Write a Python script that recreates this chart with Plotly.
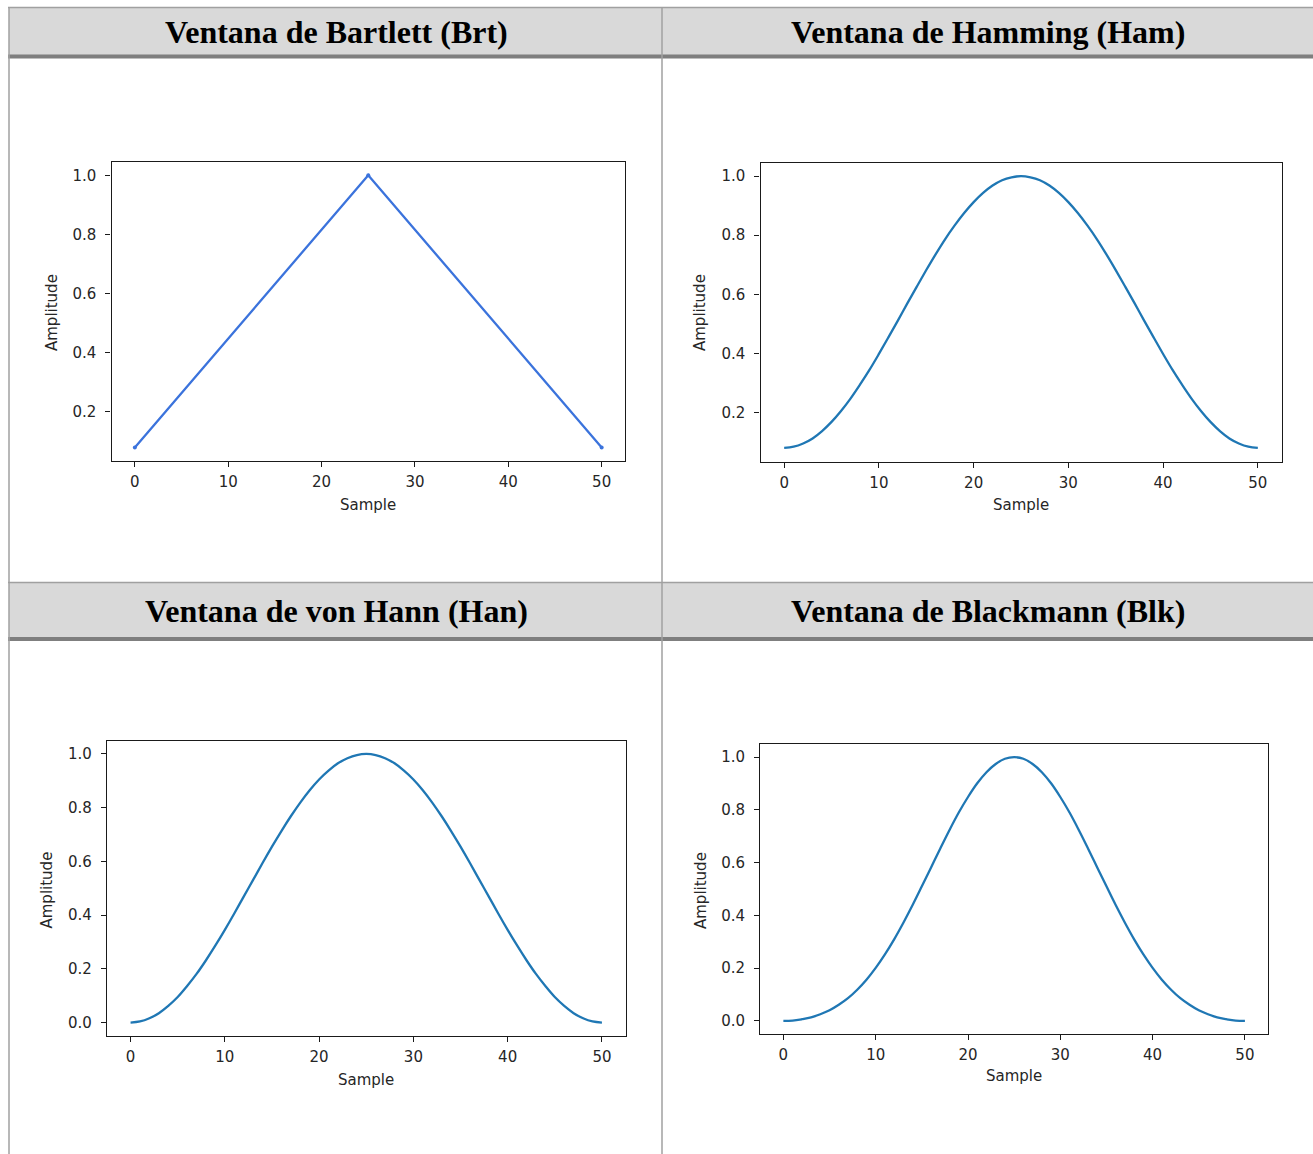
import plotly.graph_objects as go

W, H = 1313, 1154

# ---------------- data ----------------
titles = ["Ventana de Bartlett (Brt)", "Ventana de Hamming (Ham)",
          "Ventana de von Hann (Han)", "Ventana de Blackmann (Blk)"]

samples = list(range(51))

bartlett_samples = [0, 25, 50]
bartlett_values = [0.08, 1.00, 0.08]

hamming_values = [0.080, 0.084, 0.095, 0.112, 0.137, 0.168, 0.205, 0.247, 0.294, 0.344,
                  0.398, 0.454, 0.511, 0.569, 0.626, 0.682, 0.736, 0.787, 0.833, 0.875,
                  0.912, 0.943, 0.968, 0.986, 0.996, 1.000, 0.996, 0.986, 0.968, 0.943,
                  0.912, 0.875, 0.833, 0.787, 0.736, 0.682, 0.626, 0.569, 0.511, 0.454,
                  0.398, 0.344, 0.294, 0.247, 0.205, 0.168, 0.137, 0.112, 0.095, 0.084,
                  0.080]

hann_values = [0.000, 0.004, 0.016, 0.035, 0.062, 0.095, 0.136, 0.181, 0.232, 0.287,
               0.345, 0.406, 0.469, 0.531, 0.594, 0.655, 0.713, 0.768, 0.819, 0.865,
               0.905, 0.938, 0.965, 0.984, 0.996, 1.000, 0.996, 0.984, 0.965, 0.938,
               0.905, 0.865, 0.819, 0.768, 0.713, 0.655, 0.594, 0.531, 0.469, 0.406,
               0.345, 0.287, 0.232, 0.181, 0.136, 0.095, 0.062, 0.035, 0.016, 0.004,
               0.000]

blackman_values = [0.000, 0.001, 0.006, 0.013, 0.025, 0.040, 0.061, 0.086, 0.118, 0.156,
                   0.201, 0.252, 0.309, 0.372, 0.439, 0.510, 0.582, 0.654, 0.724, 0.790,
                   0.849, 0.901, 0.943, 0.974, 0.994, 1.000, 0.994, 0.974, 0.943, 0.901,
                   0.849, 0.790, 0.724, 0.654, 0.582, 0.510, 0.439, 0.372, 0.309, 0.252,
                   0.201, 0.156, 0.118, 0.086, 0.061, 0.040, 0.025, 0.013, 0.006, 0.001,
                   0.000]

x_ticks = [0, 10, 20, 30, 40, 50]
y_ticks_a = [0.2, 0.4, 0.6, 0.8, 1.0]
y_ticks_b = [0.0, 0.2, 0.4, 0.6, 0.8, 1.0]
x_label = "Sample"
y_label = "Amplitude"

# ---------------- layout helpers ----------------
def fx(p):
    return p / W

def fy(p):
    return 1 - p / H

# axes boxes in pixels: (left, right, top, bottom)
boxes = [(111.5, 625.0, 161.7, 461.0),
         (760.5, 1281.5, 162.5, 461.5),
         (107.0, 625.5, 740.5, 1036.0),
         (760.3, 1268.0, 744.0, 1034.0)]
yranges = [[0.034, 1.046], [0.034, 1.046], [-0.05, 1.05], [-0.05, 1.05]]
yticks = [y_ticks_a, y_ticks_a, y_ticks_b, y_ticks_b]

fig = go.Figure()

series = [(bartlett_samples, bartlett_values, "#3b73dc", "linear"),
          (samples, hamming_values, "#1f77b4", "spline"),
          (samples, hann_values, "#1f77b4", "spline"),
          (samples, blackman_values, "#1f77b4", "spline")]

tick_font = dict(family="DejaVu Sans", size=15, color="#262626")

for i, ((xs, ys, col, shp), (l, r, t, b)) in enumerate(zip(series, boxes)):
    n = "" if i == 0 else str(i + 1)
    mode = "lines+markers" if i == 0 else "lines"
    fig.add_trace(go.Scatter(x=xs, y=ys, mode=mode, xaxis="x" + n, yaxis="y" + n,
                             line=dict(color=col, width=2.3, shape=shp),
                             marker=dict(size=4, color=col),
                             showlegend=False, hoverinfo="x+y"))
    common = dict(showline=True, mirror=True, linecolor="#1a1a1a", linewidth=1.3,
                  ticks="outside", ticklen=5, tickwidth=1.2, tickcolor="#1a1a1a",
                  showgrid=False, zeroline=False, tickfont=tick_font)
    fig.layout["xaxis" + n] = dict(domain=[fx(l), fx(r)], range=[-2.5, 52.5],
                                   anchor="y" + n, tickvals=x_ticks,
                                   ticklabelstandoff=2, **common)
    fig.layout["yaxis" + n] = dict(domain=[fy(b), fy(t)], range=yranges[i],
                                   anchor="x" + n, tickvals=yticks[i], tickformat=".1f",
                                   ticklabelstandoff=6, **common)

# axis labels
amp_pos = [(52, 313), (700, 313), (46.5, 890), (701, 890)]
samp_pos = [(368, 505.5), (1021, 505.5), (366, 1080), (1014, 1076)]
for (ax, ay), (sx, sy) in zip(amp_pos, samp_pos):
    fig.add_annotation(x=fx(ax), y=fy(ay), xref="paper", yref="paper", text=y_label,
                       textangle=-90, showarrow=False, xanchor="center", yanchor="middle",
                       font=dict(family="DejaVu Sans", size=15, color="#262626"))
    fig.add_annotation(x=fx(sx), y=fy(sy), xref="paper", yref="paper", text=x_label,
                       showarrow=False, xanchor="center", yanchor="middle",
                       font=dict(family="DejaVu Sans", size=15, color="#262626"))

# table structure
shapes = []
gray_bg = "#d9d9d9"
for (t, b) in [(8, 55), (583, 637.5)]:
    shapes.append(dict(type="rect", xref="paper", yref="paper", x0=fx(9), x1=fx(1313),
                       y0=fy(b), y1=fy(t), fillcolor=gray_bg, line=dict(width=0),
                       layer="below"))
thin = "#a0a0a0"
thick = "#7f7f7f"
shapes += [
    dict(type="line", xref="paper", yref="paper", x0=fx(8), x1=fx(1313), y0=fy(7.5), y1=fy(7.5),
         line=dict(color=thin, width=1.5)),
    dict(type="line", xref="paper", yref="paper", x0=fx(8), x1=fx(1313), y0=fy(56.5), y1=fy(56.5),
         line=dict(color=thick, width=4)),
    dict(type="line", xref="paper", yref="paper", x0=fx(8), x1=fx(1313), y0=fy(582.5), y1=fy(582.5),
         line=dict(color=thin, width=1.5)),
    dict(type="line", xref="paper", yref="paper", x0=fx(8), x1=fx(1313), y0=fy(639), y1=fy(639),
         line=dict(color=thick, width=4)),
    dict(type="line", xref="paper", yref="paper", x0=fx(9), x1=fx(9), y0=fy(7), y1=fy(1154),
         line=dict(color=thin, width=1.5)),
    dict(type="line", xref="paper", yref="paper", x0=fx(662), x1=fx(662), y0=fy(7), y1=fy(1154),
         line=dict(color=thin, width=1.5)),
]

header_pos = [(336, 32), (987.5, 32), (336, 610.5), (987.5, 610.5)]
for txt, (hx, hy) in zip(titles, header_pos):
    fig.add_annotation(x=fx(hx), y=fy(hy), xref="paper", yref="paper", text=txt,
                       showarrow=False, xanchor="center", yanchor="middle",
                       font=dict(family="Liberation Serif", size=32, color="#000000",
                                 weight="bold"))

fig.update_layout(width=W, height=H, margin=dict(l=0, r=0, t=0, b=0),
                  paper_bgcolor="white", plot_bgcolor="white", shapes=shapes,
                  showlegend=False)

fig.write_html("out.html", config={"displayModeBar": False},
               post_script="document.body.style.margin='0';"
                           "document.body.style.overflow='hidden';")
